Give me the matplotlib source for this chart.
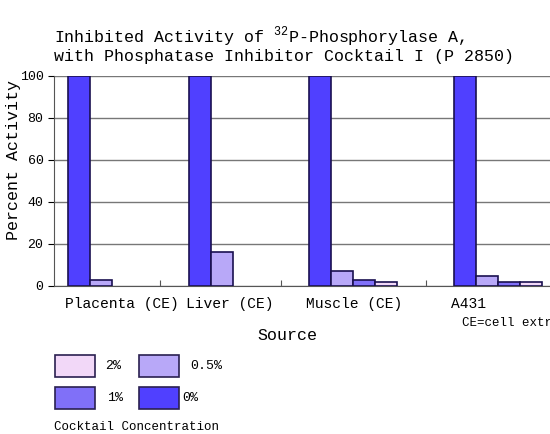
import matplotlib
matplotlib.use("Agg")
import matplotlib.pyplot as plt
from matplotlib.patches import Rectangle

plt.rcParams["font.family"] = "Liberation Mono"
plt.rcParams["mathtext.fontset"] = "custom"
plt.rcParams["mathtext.rm"] = "Liberation Mono"

sources = ["Placenta (CE)", "Liver (CE)", "Muscle (CE)", "A431"]
concentrations = ["0%", "0.5%", "1%", "2%"]
values = {
    "0%": [100, 100, 100, 100],
    "0.5%": [3, 16, 7, 5],
    "1%": [0, 0, 3, 2],
    "2%": [0, 0, 2, 2],
}
colors = {"0%": "#5040ff", "0.5%": "#b8a8f8", "1%": "#8070f8", "2%": "#f2d8f8"}

# group left edges in pixel-like x units (chart spacing is uneven)
group_left = [68, 189, 309, 454]
tick_pos = [160, 281, 426]
bar_w = 22

W, H = 550, 434
fig = plt.figure(figsize=(5.5, 4.34), dpi=100)
ax = fig.add_axes([54 / W, 1 - 286 / H, 1 - 54 / W, (286 - 76) / H])
ax.set_xlim(54, 550)
ax.set_ylim(0, 100)

for i, c in enumerate(concentrations):
    xs = [g + i * bar_w for g in group_left]
    vals = values[c]
    ax.bar([x for x, v in zip(xs, vals) if v > 0], [v for v in vals if v > 0],
           width=bar_w, align="edge", color=colors[c], edgecolor="#1a1050",
           linewidth=1.2, zorder=3)

ax.set_yticks([0, 20, 40, 60, 80, 100])
ax.tick_params(axis="y", labelsize=9.5, length=4)
ax.grid(axis="y", color="#777777", linewidth=1, zorder=0)
ax.set_xticks(tick_pos)
ax.set_xticklabels([])
ax.tick_params(axis="x", direction="in", length=4, color="#555555")
for s in ["top", "right"]:
    ax.spines[s].set_visible(False)
ax.spines["bottom"].set_color("#555555")
ax.spines["left"].set_color("#555555")

for g, name in zip(group_left, sources):
    fig.text((g - 3) / W, 1 - 304 / H, name, fontsize=10.5, va="center", ha="left")
fig.text(462 / W, 1 - 323 / H, "CE=cell extract", fontsize=9, va="center")
fig.text(287 / W, 1 - 336 / H, "Source", fontsize=12, va="center", ha="center")
fig.text(14 / W, 1 - 160 / H, "Percent Activity", fontsize=12, rotation=90,
         va="center", ha="center")
fig.text(54 / W, 1 - 37 / H, "Inhibited Activity of $^{32}$P-Phosphorylase A,",
         fontsize=12, va="center")
fig.text(54 / W, 1 - 57 / H, "with Phosphatase Inhibitor Cocktail I (P 2850)",
         fontsize=12, va="center")

# legend
legend_items = [("2%", 55, 355, 105), ("0.5%", 139, 355, 190),
                ("1%", 55, 387, 107), ("0%", 139, 387, 182)]
for lab, x0, y0, tx in legend_items:
    fig.patches.append(Rectangle((x0 / W, 1 - (y0 + 22) / H), 40 / W, 22 / H,
                                 transform=fig.transFigure, facecolor=colors[lab],
                                 edgecolor="#2a2050", linewidth=1.2))
    fig.text(tx / W, 1 - (y0 + 11) / H, lab, fontsize=9.5, va="center")
fig.text(54 / W, 1 - 427 / H, "Cocktail Concentration", fontsize=9, va="center")

fig.savefig("out.png", dpi=100)
